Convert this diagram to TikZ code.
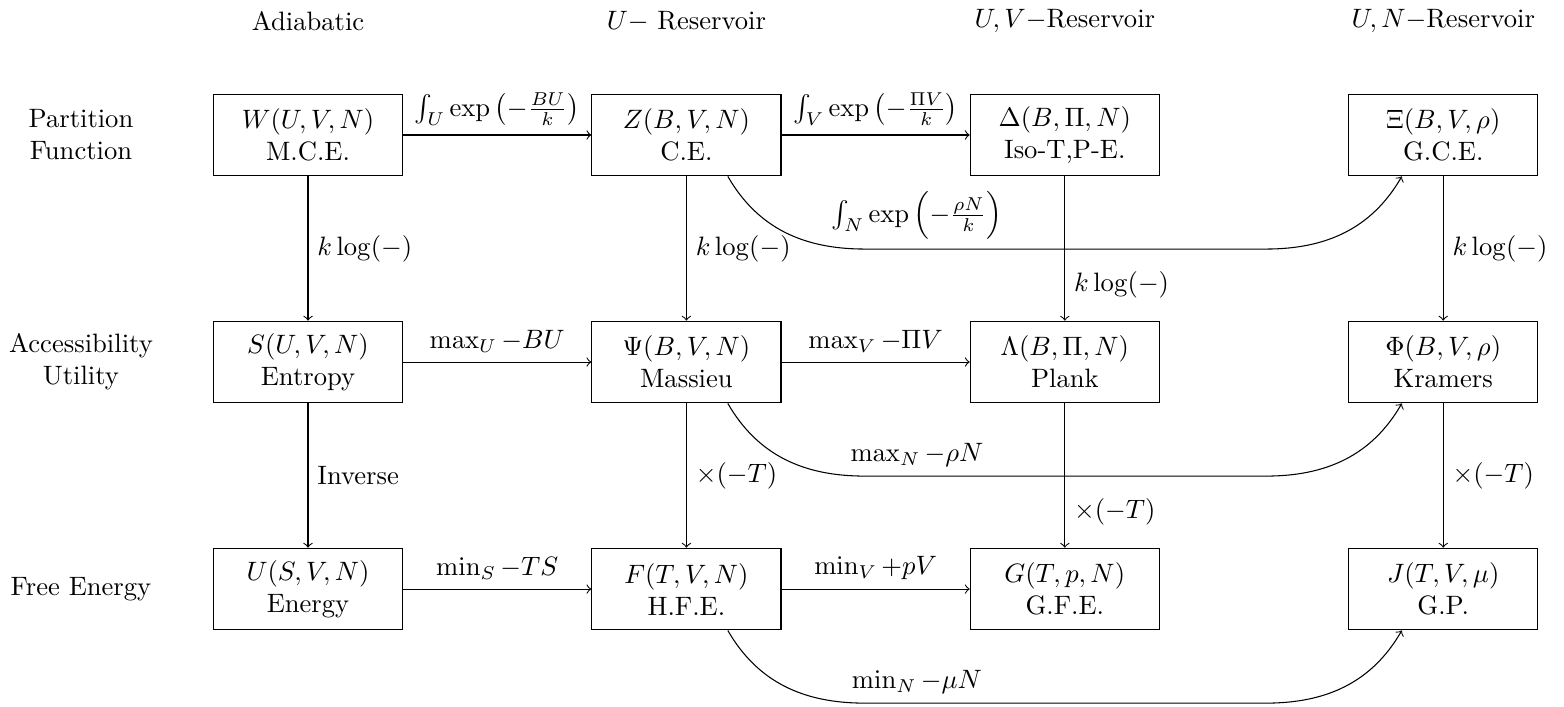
\documentclass[tikz,border=0pt]{standalone}
\begin{document}
\begin{tikzpicture}[box/.style={draw,minimum width=2.5cm,minimum height=1.08cm,align=center}]
\useasboundingbox (-4.07,-7.545) rectangle (16.596,1.784);
% column and row titles
\node (hA) at (0,1.5) {Adiabatic};
\node (hU) at (5,1.5) {$U-$ Reservoir};
\node (hUV) at (10,1.5) {$U,V-$Reservoir};
\node (hUN) at (15,1.5) {$U,N-$Reservoir};
\node[align=center] (rP) at (-3,0) {Partition\\Function};
\node[align=center] (rA) at (-3,-3) {Accessibility\\Utility};
\node (rF) at (-3,-6) {Free Energy};
% boxes
\node[box] (W) at (0,0) {$W(U,V,N)$\\M.C.E.};
\node[box] (Z) at (5,0) {$Z(B,V,N)$\\C.E.};
\node[box] (D) at (10,0) {$\Delta(B,\Pi,N)$\\Iso-T,P-E.};
\node[box] (Xi) at (15,0) {$\Xi(B,V,\rho)$\\G.C.E.};
\node[box] (S) at (0,-3) {$S(U,V,N)$\\Entropy};
\node[box] (Psi) at (5,-3) {$\Psi(B,V,N)$\\Massieu};
\node[box] (L) at (10,-3) {$\Lambda(B,\Pi,N)$\\Plank};
\node[box] (Phi) at (15,-3) {$\Phi(B,V,\rho)$\\Kramers};
\node[box] (U) at (0,-6) {$U(S,V,N)$\\Energy};
\node[box] (F) at (5,-6) {$F(T,V,N)$\\H.F.E.};
\node[box] (G) at (10,-6) {$G(T,p,N)$\\G.F.E.};
\node[box] (J) at (15,-6) {$J(T,V,\mu)$\\G.P.};
% horizontal arrows
\draw[->] (W) -- node[above] {$\int_U \exp\left(-\frac{BU}{k}\right)$} (Z);
\draw[->] (Z) -- node[above] {$\int_V \exp\left(-\frac{\Pi V}{k}\right)$} (D);
\draw[->] (S) -- node[above] {$\max_U -BU$} (Psi);
\draw[->] (Psi) -- node[above] {$\max_V -\Pi V$} (L);
\draw[->] (U) -- node[above] {$\min_S -TS$} (F);
\draw[->] (F) -- node[above] {$\min_V +pV$} (G);
% vertical arrows
\draw[->] (W) -- node[right] {$k\log(-)$} (S);
\draw[->] (Z) -- node[right] {$k\log(-)$} (Psi);
\draw[->] (D) -- node[right,pos=0.75] {$k\log(-)$} (L);
\draw[->] (Xi) -- node[right] {$k\log(-)$} (Phi);
\draw[->] (S) -- node[right] {Inverse} (U);
\draw[->] (Psi) -- node[right] {$\times(-T)$} (F);
\draw[->] (L) -- node[right,pos=0.75] {$\times(-T)$} (G);
\draw[->] (Phi) -- node[right] {$\times(-T)$} (J);
% curved arrows
\draw[->] (Z.-45) to[out=-60,in=180] ++(1.81,-0.96) -- node[above,pos=0.13] {$\int_N \exp\left(-\frac{\rho N}{k}\right)$} ++(5.3,0) to[out=0,in=-120] (Xi.-135);
\draw[->] (Psi.-45) to[out=-60,in=180] ++(1.81,-0.96) -- node[above,pos=0.13] {$\max_N -\rho N$} ++(5.3,0) to[out=0,in=-120] (Phi.-135);
\draw[->] (F.-45) to[out=-60,in=180] ++(1.81,-0.96) -- node[above,pos=0.13] {$\min_N -\mu N$} ++(5.3,0) to[out=0,in=-120] (J.-135);
\end{tikzpicture}
\end{document}
